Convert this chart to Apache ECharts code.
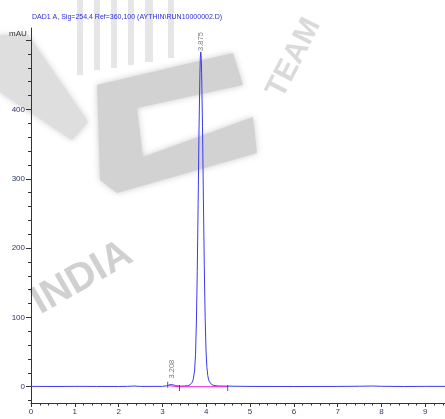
<!DOCTYPE html>
<html>
<head>
<meta charset="utf-8">
<script src="https://cdn.jsdelivr.net/npm/echarts@6/dist/echarts.min.js"></script>
<style>
html,body{margin:0;padding:0;background:#fff;}
#chart{width:445px;height:419px;}
</style>
</head>
<body>
<div id="chart"></div>
<script>
// ---- data ----
const traceTime = [0, 0.5, 1.0, 1.5, 2.0, 2.2, 2.35, 2.5, 3.0, 3.1, 3.15, 3.2, 3.25, 3.3, 3.4, 3.5,
  3.575, 3.625, 3.675, 3.705, 3.735, 3.755, 3.775, 3.795, 3.815, 3.835, 3.855, 3.865, 3.875,
  3.885, 3.895, 3.915, 3.935, 3.955, 3.975, 3.995, 4.015, 4.035, 4.055, 4.075, 4.125, 4.175, 4.275,
  4.5, 5.0, 6.0, 7.0, 7.5, 7.8, 8.0, 8.5, 9.0, 9.45];
const traceValue = [0.5, 0.3, 0.5, 0.4, 0.3, 0.5, 1.0, 0.4, 0.5, 1.2, 2.5, 3.2, 2.6, 1.5, 0.8, 1.0,
  1.5, 2.5, 6, 11, 24, 46, 92, 166, 264, 370, 450, 474, 483,
  475, 453, 375, 272, 175, 100, 52, 28, 16, 10, 7, 3, 1.8, 1.0,
  0.8, 0.4, 0.3, 0.4, 0.7, 1.0, 0.6, 0.3, 0.5, 0.5];
const peakTimes = [3.208, 3.875];
const peakHeights = [3.2, 483];
const integTime = [3.12, 3.39, 4.49];
const integValue = [1.5, 0, 0];
const integMarkValue = [3, -2, -2];
const xTickLabels = [0, 1, 2, 3, 4, 5, 6, 7, 8, 9];
const xMinorTicks = [0, 0.2, 0.4, 0.6, 0.8, 1, 1.2, 1.4, 1.6, 1.8, 2, 2.2, 2.4, 2.6, 2.8, 3, 3.2, 3.4, 3.6, 3.8,
  4, 4.2, 4.4, 4.6, 4.8, 5, 5.2, 5.4, 5.6, 5.8, 6, 6.2, 6.4, 6.6, 6.8, 7, 7.2, 7.4, 7.6, 7.8,
  8, 8.2, 8.4, 8.6, 8.8, 9, 9.2, 9.4];
const yTickLabels = [0, 100, 200, 300, 400];
const yMajorTicks = [0, 100, 200, 300, 400, 500];
const yMinorTicks = [-20, 0, 20, 40, 60, 80, 100, 120, 140, 160, 180, 200, 220, 240, 260, 280, 300,
  320, 340, 360, 380, 400, 420, 440, 460, 480, 500];
const titleText = 'DAD1 A, Sig=254,4 Ref=360,100 (AYTHIN\\RUN10000002.D)';
const yUnit = 'mAU';
const watermarkWords = ['INDIA', 'TEAM'];

// ---- chart ----
const chart = echarts.init(document.getElementById('chart'), null, {renderer: 'canvas'});
const FONT = 'Liberation Sans, Arial, sans-serif';
const labelColor = '#2e3a64';

const trace = traceTime.map((t, i) => [t, traceValue[i]]);
const integ = integTime.map((t, i) => [t, integValue[i]]);
const integMarks = integTime.map((t, i) => [t, integMarkValue[i]]);
const peaks = peakTimes.map((t, i) => ({
  value: [t, peakHeights[i]],
  label: {distance: i === 0 ? 6 : 1}
}));

const wm = {shadowBlur: 6, shadowColor: 'rgba(200,200,200,0.9)'};
chart.setOption({
  backgroundColor: '#fff',
  animation: false,
  graphic: [
    // watermark (decorative background)
    {type: 'polygon', z: -10, silent: true,
     shape: {points: [[0,35],[28,35],[88,122],[72,140],[0,92]]}, style: Object.assign({fill: '#dedede'}, wm)},
    {type: 'rect', z: -10, silent: true, shape: {x: 77, y: 0, width: 6, height: 75}, style: {fill: '#e6e6e6'}},
    {type: 'rect', z: -10, silent: true, shape: {x: 94, y: 0, width: 6, height: 70}, style: {fill: '#e6e6e6'}},
    {type: 'rect', z: -10, silent: true, shape: {x: 111, y: 0, width: 6, height: 68}, style: {fill: '#e6e6e6'}},
    {type: 'rect', z: -10, silent: true, shape: {x: 128, y: 0, width: 6, height: 65}, style: {fill: '#e6e6e6'}},
    {type: 'rect', z: -10, silent: true, shape: {x: 145, y: 0, width: 8, height: 62}, style: {fill: '#e6e6e6'}},
    {type: 'rect', z: -10, silent: true, shape: {x: 168, y: 0, width: 6, height: 58}, style: {fill: '#e6e6e6'}},
    {type: 'polygon', z: -9, silent: true,
     shape: {points: [[97,85],[233,53],[243,85],[137,108],[143,157],[253,117],[257,153],[117,193],[100,180]]},
     style: Object.assign({fill: '#d2d2d2'}, wm)},
    {type: 'text', z: -9, silent: true, x: 82, y: 278, rotation: 0.52,
     style: {text: watermarkWords[0], fontSize: 40, fontWeight: 'bold', fontFamily: FONT,
             fill: '#d0d0d0', align: 'center', verticalAlign: 'middle'}},
    {type: 'text', z: -9, silent: true, x: 294, y: 58, rotation: 1.1,
     style: {text: watermarkWords[1], fontSize: 30, fontWeight: 'bold', fontFamily: FONT,
             fill: '#dadada', align: 'center', verticalAlign: 'middle'}},
    // title and unit
    {type: 'text', z: 10, left: 32, top: 14,
     style: {text: titleText, fontSize: 7, fontFamily: FONT, fill: '#2b2bdc'}},
    {type: 'text', z: 10, left: 9, top: 30,
     style: {text: yUnit, fontSize: 8, fontFamily: FONT, fill: '#333'}}
  ],
  grid: {left: 31, right: 0, top: 28, bottom: 16, containLabel: false},
  xAxis: [{
    type: 'value', min: 0, max: 9.45, interval: 1,
    position: 'bottom',
    axisLine: {show: true, onZero: false, lineStyle: {color: '#333', width: 1}},
    axisTick: {show: true, length: 4, customValues: xTickLabels, lineStyle: {color: '#333'}},
    axisLabel: {show: true, customValues: xTickLabels, fontSize: 8, fontFamily: FONT, color: labelColor, margin: 5},
    splitLine: {show: false}
  }, {
    type: 'value', min: 0, max: 9.45, position: 'bottom', gridIndex: 0,
    axisLine: {show: false, onZero: false},
    axisTick: {show: true, length: 2.5, customValues: xMinorTicks, lineStyle: {color: '#333'}},
    axisLabel: {show: false},
    splitLine: {show: false}
  }],
  yAxis: [{
    type: 'value', min: -23.5, max: 517.5,
    position: 'left',
    axisLine: {show: true, onZero: false, lineStyle: {color: '#333', width: 1}},
    axisTick: {show: true, length: 5, customValues: yMajorTicks, lineStyle: {color: '#333'}},
    axisLabel: {show: true, customValues: yTickLabels, fontSize: 8, fontFamily: FONT, color: labelColor, margin: 6},
    splitLine: {show: false}
  }, {
    type: 'value', min: -23.5, max: 517.5, position: 'left',
    axisLine: {show: false, onZero: false},
    axisTick: {show: true, length: 3, customValues: yMinorTicks, lineStyle: {color: '#333'}},
    axisLabel: {show: false},
    splitLine: {show: false}
  }],
  series: [{
    type: 'line', data: trace, xAxisIndex: 0, yAxisIndex: 0,
    showSymbol: false, smooth: false, z: 3,
    lineStyle: {color: '#3a3aee', width: 1}
  }, {
    type: 'line', data: integ, xAxisIndex: 0, yAxisIndex: 0,
    showSymbol: false, z: 4,
    lineStyle: {color: '#ee22dd', width: 1}
  }, {
    type: 'scatter', data: integMarks, xAxisIndex: 0, yAxisIndex: 0,
    symbol: 'rect', symbolSize: [1, 6], z: 5,
    itemStyle: {color: '#333'}
  }, {
    type: 'scatter', data: peaks, xAxisIndex: 0, yAxisIndex: 0,
    symbolSize: 0, z: 6,
    label: {
      show: true, position: 'top', rotate: 90, align: 'left', verticalAlign: 'middle',
      fontSize: 7.5, fontFamily: FONT, color: '#555',
      formatter: p => p.value[0].toFixed(3)
    }
  }]
});
</script>
</body>
</html>
